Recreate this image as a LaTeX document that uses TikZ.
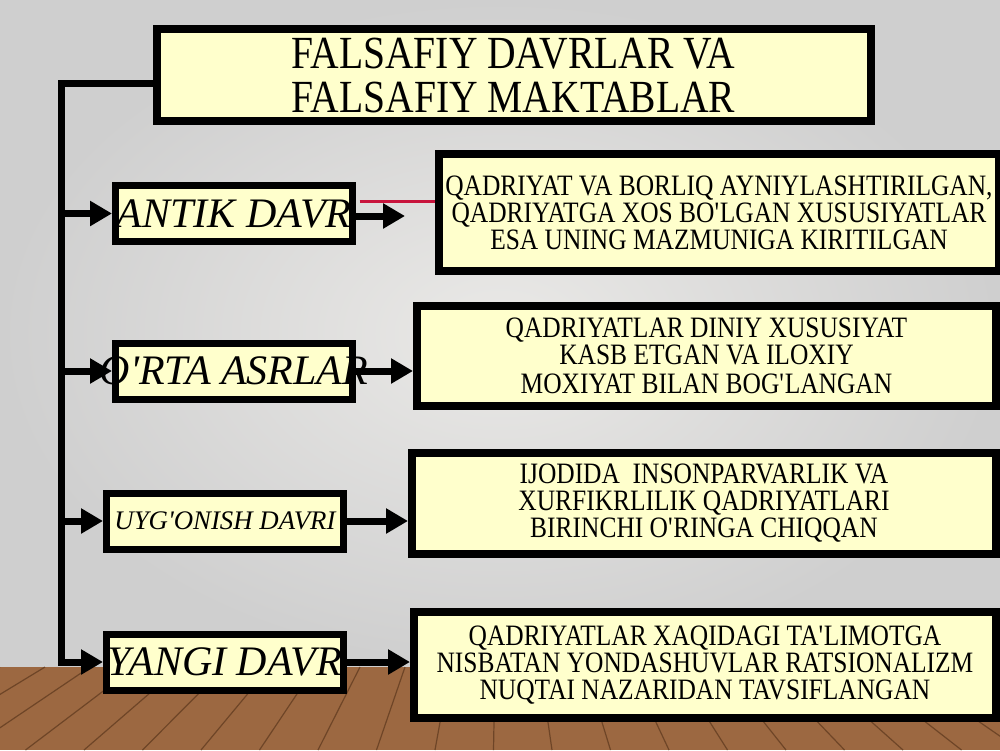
\documentclass[tikz,border=0pt]{standalone}
\usepackage{fontspec}
\setmainfont{Liberation Serif}
\newfontfamily\boxfont[FakeStretch=0.86]{Liberation Serif}
\usetikzlibrary{arrows.meta}
\definecolor{paper}{HTML}{FFFFCC}
\definecolor{wall}{HTML}{EAE9E7}
\definecolor{walledge}{HTML}{CFCFCF}
\definecolor{wood}{HTML}{9C6841}
\definecolor{woodline}{HTML}{6E4527}
\definecolor{crimson}{HTML}{C8143C}
\tikzset{
  frame/.style={draw=black, fill=paper, line width=4pt, inner sep=0pt, align=center},
  titlebox/.style={frame, minimum width=357pt, minimum height=46pt, font=\boxfont\fontsize{23}{22}\selectfont},
  erabox/.style={frame, line width=3.5pt, minimum width=118.5pt, minimum height=28pt, font=\fontsize{21}{21}\selectfont\itshape},
  notebox/.style={frame, font=\boxfont\fontsize{14.8}{13.5}\selectfont},
  link/.style={draw=black, line width=3.5pt},
  arr/.style={link, -{Triangle[length=11pt,width=12pt]}},
}

\begin{document}
\begin{tikzpicture}[x=0.5pt,y=-0.5pt]
  \useasboundingbox (0,0) rectangle (1000,750);
  % wall and floor
  \shade[inner color=wall, outer color=walledge] (0,0) rectangle (1000,667);
  \fill[wood] (0,667) rectangle (1000,750);
  \foreach \x in {0,45,...,1035}
    \draw[woodline, line width=0.6pt] (\x,667) -- ({\x+(\x-500)*0.3},750);

  \node[titlebox] (title) at (513.5,75) {FALSAFIY DAVRLAR VA\\FALSAFIY MAKTABLAR};

  \node[erabox] (antik) at (234,213.5) {\makebox[0pt]{ANTIK DAVR}};
  \node[erabox] (orta) at (234,371) {\makebox[0pt]{O\textquotesingle RTA ASRLAR}};
  \node[erabox, font=\fontsize{13.4}{13.4}\selectfont\itshape] (uygonish) at (225,521) {UYG\textquotesingle ONISH DAVRI};
  \node[erabox] (yangi) at (225,662) {\makebox[0pt]{YANGI DAVR}};

  \node[notebox, minimum width=280pt, minimum height=58.5pt] (antiknote) at (719,212.5)
    {QADRIYAT VA BORLIQ AYNIYLASHTIRILGAN,\\QADRIYATGA XOS BO\textquotesingle LGAN XUSUSIYATLAR\\ESA UNING MAZMUNIGA KIRITILGAN};
  \node[notebox, minimum width=289.5pt, minimum height=50pt] (ortanote) at (706.5,356)
    {QADRIYATLAR DINIY XUSUSIYAT\\KASB ETGAN VA ILOXIY\\[1pt]MOXIYAT BILAN BOG\textquotesingle LANGAN};
  \node[notebox, minimum width=292pt, minimum height=50.5pt] (uygonishnote) at (704,503.5)
    {IJODIDA\ \ INSONPARVARLIK VA\\XURFIKRLILIK QADRIYATLARI\\BIRINCHI O\textquotesingle RINGA CHIQQAN};
  \node[notebox, minimum width=291pt, minimum height=53pt] (yanginote) at (705,665)
    {QADRIYATLAR XAQIDAGI TA\textquotesingle LIMOTGA\\NISBATAN YONDASHUVLAR RATSIONALIZM\\NUQTAI NAZARIDAN TAVSIFLANGAN};

  % trunk from the title
  \coordinate (spine) at (61,83);
  \draw[arr] (title.west |- spine) -- (spine) -- (spine |- yangi.west) -- (yangi.west);
  \foreach \n in {antik,orta,uygonish}
    \draw[arr] (spine |- \n.west) -- (\n.west);

  % to the notes
  \coordinate (antiktip) at (405,216);
  \draw[arr] (antik.east |- antiktip) -- (antiktip);
  \draw[crimson, line width=1.2pt] ([xshift=1.75pt,yshift=6pt]antik.east) -- ([yshift=6pt]antik.east -| antiknote.west);
  \foreach \n/\m in {orta/ortanote,uygonish/uygonishnote,yangi/yanginote}
    \draw[arr] (\n.east) -- (\n.east -| \m.west);
\end{tikzpicture}
\end{document}
